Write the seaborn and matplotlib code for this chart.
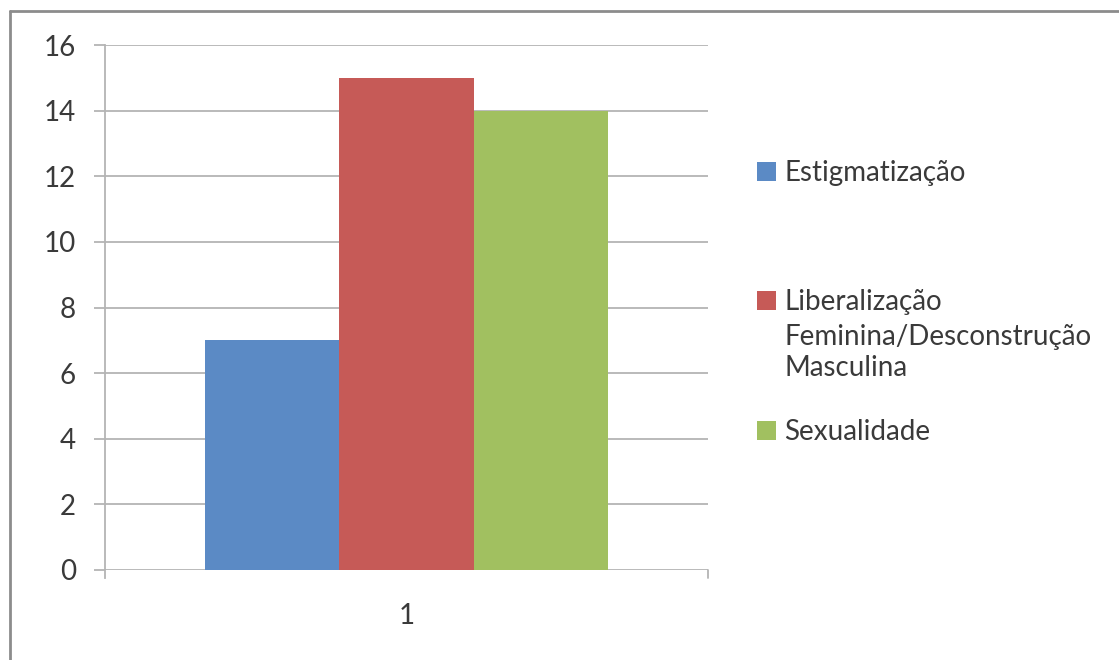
import matplotlib
matplotlib.use("Agg")
import matplotlib.pyplot as plt
import seaborn as sns
import pandas as pd

# data
grupo = ["1"]
categorias = [
    "Estigmatização",
    "Liberalização Feminina/Desconstrução Masculina",
    "Sexualidade",
]
# legend wraps the long label over three lines
legenda_linhas = [
    ["Estigmatização"],
    ["Liberalização", "Feminina/Desconstrução", "Masculina"],
    ["Sexualidade"],
]
valores = [7, 15, 14]
cores = ["#5B8AC5", "#C65A57", "#A1C060"]
yticks = [0, 2, 4, 6, 8, 10, 12, 14, 16]

df = pd.DataFrame({
    "grupo": grupo * len(categorias),
    "categoria": categorias,
    "valor": valores,
})

sns.set_theme(style="white")
plt.rcParams["font.family"] = ["Lato", "DejaVu Sans"]
txt_c = "#3A3A3A"
fs = 20

fig = plt.figure(figsize=(11.19, 6.6), dpi=100)
ax = fig.add_axes([105 / 1119, 1 - 570 / 660, 603 / 1119, 525 / 660])

sns.barplot(data=df, x="grupo", y="valor", hue="categoria",
            palette=cores, width=0.668, saturation=1, linewidth=0,
            ax=ax, legend=True)

grid_c = "#B4B4B4"
ax.set_ylim(0, 16)
ax.set_xlim(-0.5, 0.5)
ax.set_yticks(yticks)
ax.yaxis.grid(True, color=grid_c, linewidth=1.3)
ax.set_axisbelow(True)
for s in ["top", "right", "bottom"]:
    ax.spines[s].set_visible(False)
ax.spines["left"].set_color(grid_c)
ax.spines["left"].set_linewidth(1.3)
ax.spines["left"].set_bounds(-0.25, 16)
ax.tick_params(axis="y", length=8, width=1.3, color=grid_c, pad=13,
               labelsize=fs, labelcolor=txt_c, left=True)
ax.tick_params(axis="x", length=0, pad=24, labelsize=fs, labelcolor=txt_c)
# right end tick on the category axis
ax.plot([0.5, 0.5], [-0.25, 0], color=grid_c, lw=1.3, clip_on=False)
ax.set_xlabel("")
ax.set_ylabel("")

handles, labels = ax.get_legend_handles_labels()
ax.get_legend().remove()
leg_kw = dict(frameon=False, fontsize=fs, handlelength=0.68, handleheight=0.68,
              handletextpad=0.3, labelcolor=txt_c, borderaxespad=0,
              borderpad=0, loc="center left")
centros = [173, 302, 432]
legs = []
for h, linhas, yc in zip(handles, legenda_linhas, centros):
    legs.append(fig.legend([h], [linhas[0]],
                           bbox_to_anchor=(757 / 1119, 1 - yc / 660), **leg_kw))

# continuation lines of the wrapped legend label
fig.canvas.draw()
x0 = legs[1].get_texts()[0].get_window_extent().x0 / 1119
for i, linha in enumerate(legenda_linhas[1][1:]):
    fig.text(x0, 1 - (334 + 32 * i) / 660, linha, fontsize=fs, color=txt_c,
             va="center_baseline", ha="left")

# outer frame (only left and top visible in the reference)
fig.add_artist(plt.Line2D([10 / 1119, 10 / 1119], [0, 1 - 11 / 660],
                          transform=fig.transFigure, color="#8C8C8C", lw=2))
fig.add_artist(plt.Line2D([10 / 1119, 1], [1 - 11 / 660, 1 - 11 / 660],
                          transform=fig.transFigure, color="#8C8C8C", lw=2))

fig.savefig("out.png", dpi=100)
